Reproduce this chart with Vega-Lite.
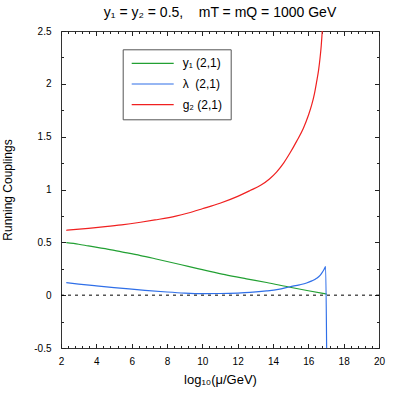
{
  "$schema": "https://vega.github.io/schema/vega-lite/v6.json",
  "autosize": {"type": "none"},
  "padding": {"left": 61, "top": 31, "right": 16, "bottom": 47},
  "width": 318,
  "height": 317,
  "background": "white",
  "title": {"text": "y₁ = y₂ = 0.5,\u00a0\u00a0\u00a0 mT = mQ = 1000 GeV", "font": "Liberation Sans", "fontSize": 14, "fontWeight": "normal", "color": "black", "anchor": "middle", "offset": 6},
  "config": {"view": {"stroke": "#333", "strokeWidth": 1}, "font": "Liberation Sans"},
  "resolve": {"axis": {"x": "independent", "y": "independent"}},
  "data": {"values": [
    {"s": "y₁ (2,1)", "x": 2.3, "y": 0.497},
    {"s": "y₁ (2,1)", "x": 3.0, "y": 0.482},
    {"s": "y₁ (2,1)", "x": 3.55, "y": 0.466},
    {"s": "y₁ (2,1)", "x": 4.5, "y": 0.44},
    {"s": "y₁ (2,1)", "x": 5.43, "y": 0.41},
    {"s": "y₁ (2,1)", "x": 6.5, "y": 0.375},
    {"s": "y₁ (2,1)", "x": 7.32, "y": 0.345},
    {"s": "y₁ (2,1)", "x": 8.5, "y": 0.3},
    {"s": "y₁ (2,1)", "x": 9.2, "y": 0.272},
    {"s": "y₁ (2,1)", "x": 10.0, "y": 0.242},
    {"s": "y₁ (2,1)", "x": 11.28, "y": 0.194},
    {"s": "y₁ (2,1)", "x": 12.5, "y": 0.155},
    {"s": "y₁ (2,1)", "x": 13.64, "y": 0.12},
    {"s": "y₁ (2,1)", "x": 14.96, "y": 0.075},
    {"s": "y₁ (2,1)", "x": 16.0, "y": 0.042},
    {"s": "y₁ (2,1)", "x": 17.04, "y": 0.01},
    {"s": "λ\u00a0 (2,1)", "x": 2.3, "y": 0.118},
    {"s": "λ\u00a0 (2,1)", "x": 3.0, "y": 0.105},
    {"s": "λ\u00a0 (2,1)", "x": 4.0, "y": 0.088},
    {"s": "λ\u00a0 (2,1)", "x": 5.0, "y": 0.072},
    {"s": "λ\u00a0 (2,1)", "x": 6.0, "y": 0.057},
    {"s": "λ\u00a0 (2,1)", "x": 6.75, "y": 0.046},
    {"s": "λ\u00a0 (2,1)", "x": 8.0, "y": 0.03},
    {"s": "λ\u00a0 (2,1)", "x": 9.0, "y": 0.02},
    {"s": "λ\u00a0 (2,1)", "x": 10.0, "y": 0.015},
    {"s": "λ\u00a0 (2,1)", "x": 11.0, "y": 0.016},
    {"s": "λ\u00a0 (2,1)", "x": 12.0, "y": 0.02},
    {"s": "λ\u00a0 (2,1)", "x": 12.7, "y": 0.026},
    {"s": "λ\u00a0 (2,1)", "x": 13.64, "y": 0.04},
    {"s": "λ\u00a0 (2,1)", "x": 14.3, "y": 0.055},
    {"s": "λ\u00a0 (2,1)", "x": 14.96, "y": 0.08},
    {"s": "λ\u00a0 (2,1)", "x": 15.5, "y": 0.098},
    {"s": "λ\u00a0 (2,1)", "x": 15.9, "y": 0.115},
    {"s": "λ\u00a0 (2,1)", "x": 16.2, "y": 0.135},
    {"s": "λ\u00a0 (2,1)", "x": 16.47, "y": 0.16},
    {"s": "λ\u00a0 (2,1)", "x": 16.65, "y": 0.185},
    {"s": "λ\u00a0 (2,1)", "x": 16.75, "y": 0.207},
    {"s": "λ\u00a0 (2,1)", "x": 16.88, "y": 0.24},
    {"s": "λ\u00a0 (2,1)", "x": 16.98, "y": 0.27},
    {"s": "λ\u00a0 (2,1)", "x": 17.04, "y": -0.6},
    {"s": "g₂ (2,1)", "x": 2.3, "y": 0.614},
    {"s": "g₂ (2,1)", "x": 3.55, "y": 0.633},
    {"s": "g₂ (2,1)", "x": 4.5, "y": 0.648},
    {"s": "g₂ (2,1)", "x": 5.43, "y": 0.665},
    {"s": "g₂ (2,1)", "x": 6.5, "y": 0.69},
    {"s": "g₂ (2,1)", "x": 7.32, "y": 0.712},
    {"s": "g₂ (2,1)", "x": 8.5, "y": 0.748},
    {"s": "g₂ (2,1)", "x": 9.2, "y": 0.778},
    {"s": "g₂ (2,1)", "x": 10.0, "y": 0.818},
    {"s": "g₂ (2,1)", "x": 11.0, "y": 0.87},
    {"s": "g₂ (2,1)", "x": 12.0, "y": 0.935},
    {"s": "g₂ (2,1)", "x": 12.7, "y": 0.99},
    {"s": "g₂ (2,1)", "x": 13.3, "y": 1.04},
    {"s": "g₂ (2,1)", "x": 13.8, "y": 1.1},
    {"s": "g₂ (2,1)", "x": 14.2, "y": 1.165},
    {"s": "g₂ (2,1)", "x": 14.6, "y": 1.25},
    {"s": "g₂ (2,1)", "x": 14.96, "y": 1.345},
    {"s": "g₂ (2,1)", "x": 15.35, "y": 1.46},
    {"s": "g₂ (2,1)", "x": 15.72, "y": 1.58},
    {"s": "g₂ (2,1)", "x": 16.0, "y": 1.7},
    {"s": "g₂ (2,1)", "x": 16.19, "y": 1.8},
    {"s": "g₂ (2,1)", "x": 16.35, "y": 1.91},
    {"s": "g₂ (2,1)", "x": 16.47, "y": 2.02},
    {"s": "g₂ (2,1)", "x": 16.58, "y": 2.13},
    {"s": "g₂ (2,1)", "x": 16.66, "y": 2.24},
    {"s": "g₂ (2,1)", "x": 16.73, "y": 2.36},
    {"s": "g₂ (2,1)", "x": 16.79, "y": 2.51},
    {"s": "g₂ (2,1)", "x": 16.84, "y": 2.7}
  ]},
  "layer": [
    {
      "transform": [{"filter": "datum.s == 'y₁ (2,1)'"}],
      "mark": {"type": "line", "strokeWidth": 1.2, "clip": true, "interpolate": "monotone"},
      "encoding": {
        "x": {"field": "x", "type": "quantitative",
          "scale": {"domain": [2, 20], "nice": false, "zero": false},
          "axis": {"orient": "bottom", "tickSize": -4.5, "title": "log₁₀(μ/GeV)", "titleFont": "Liberation Sans", "titleFontSize": 13, "titleFontWeight": "normal", "titleColor": "black", "titleX": 159, "titleY": 25,
            "values": [2, 4, 6, 8, 10, 12, 14, 16, 18, 20],
            "labelFont": "Liberation Sans", "labelFontSize": 10, "labelColor": "black", "labelPadding": 12.5, "labelFlush": false, "labelOverlap": false,
            "domain": false, "grid": false, "ticks": true, "tickColor": "#222", "tickWidth": 1}},
        "y": {"field": "y", "type": "quantitative",
          "scale": {"domain": [-0.5, 2.5], "nice": false, "zero": false},
          "axis": {"orient": "left", "tickSize": -4.5, "title": "Running Couplings", "titleFont": "Liberation Sans", "titleFontSize": 12, "titleFontWeight": "normal", "titleColor": "black", "titleX": -47, "titleY": 158.5,
            "values": [-0.5, 0, 0.5, 1, 1.5, 2, 2.5],
            "labelExpr": "datum.value + ''",
            "labelFont": "Liberation Sans", "labelFontSize": 10, "labelColor": "black", "labelPadding": 14.5, "labelFlush": false, "labelOverlap": false,
            "domain": false, "grid": false, "ticks": true, "tickColor": "#222", "tickWidth": 1}},
        "color": {"field": "s", "type": "nominal",
          "scale": {"domain": ["y₁ (2,1)", "λ\u00a0 (2,1)", "g₂ (2,1)"], "range": ["#22a033", "#2f6fe8", "#f02020"]},
          "legend": {"orient": "none", "legendX": 61.7, "legendY": 18.3, "title": null, "symbolType": "stroke", "symbolSize": 1764, "symbolStrokeWidth": 1.2,
            "labelFont": "Liberation Sans", "labelFontSize": 12, "labelColor": "black", "labelOffset": 8, "padding": 8, "strokeColor": "#555", "fillColor": "white", "cornerRadius": 0, "clipHeight": 12, "rowPadding": 8.7, "offset": 0}}
      }
    },
    {
      "transform": [{"filter": "datum.s == 'λ\u00a0 (2,1)'"}],
      "mark": {"type": "line", "strokeWidth": 1.2, "clip": true, "interpolate": "monotone"},
      "encoding": {
        "x": {"field": "x", "type": "quantitative",
          "scale": {"domain": [2, 20], "nice": false, "zero": false},
          "axis": {"orient": "bottom", "tickSize": -2.5, "title": null, "labels": false, "domain": false, "grid": false, "ticks": true, "tickColor": "#222", "tickWidth": 1,
            "values": [2.4,2.8,3.2,3.6,4.4,4.8,5.2,5.6,6.4,6.8,7.2,7.6,8.4,8.8,9.2,9.6,10.4,10.8,11.2,11.6,12.4,12.8,13.2,13.6,14.4,14.8,15.2,15.6,16.4,16.8,17.2,17.6,18.4,18.8,19.2,19.6]}},
        "y": {"field": "y", "type": "quantitative",
          "scale": {"domain": [-0.5, 2.5], "nice": false, "zero": false},
          "axis": {"orient": "left", "tickSize": -2.5, "title": null, "labels": false, "domain": false, "grid": false, "ticks": true, "tickColor": "#222", "tickWidth": 1,
            "values": [-0.25, 0.25, 0.75, 1.25, 1.75, 2.25]}},
        "color": {"field": "s", "type": "nominal"}
      }
    },
    {
      "transform": [{"filter": "datum.s == 'g₂ (2,1)'"}],
      "mark": {"type": "line", "strokeWidth": 1.2, "clip": true, "interpolate": "monotone"},
      "encoding": {
        "x": {"field": "x", "type": "quantitative",
          "scale": {"domain": [2, 20], "nice": false, "zero": false},
          "axis": {"orient": "top", "tickSize": -4.5, "title": null, "labels": false, "domain": false, "grid": false, "ticks": true, "tickColor": "#222", "tickWidth": 1,
            "values": [2, 4, 6, 8, 10, 12, 14, 16, 18, 20]}},
        "y": {"field": "y", "type": "quantitative",
          "scale": {"domain": [-0.5, 2.5], "nice": false, "zero": false},
          "axis": {"orient": "right", "tickSize": -4.5, "title": null, "labels": false, "domain": false, "grid": false, "ticks": true, "tickColor": "#222", "tickWidth": 1,
            "values": [-0.5, 0, 0.5, 1, 1.5, 2, 2.5]}},
        "color": {"field": "s", "type": "nominal"}
      }
    },
    {
      "data": {"values": [{"x": 2, "y": 0}, {"x": 20, "y": 0}]},
      "mark": {"type": "line", "color": "black", "strokeWidth": 1, "strokeDash": [3, 4]},
      "encoding": {
        "x": {"field": "x", "type": "quantitative",
          "scale": {"domain": [2, 20], "nice": false, "zero": false},
          "axis": {"orient": "top", "tickSize": -2.5, "title": null, "labels": false, "domain": false, "grid": false, "ticks": true, "tickColor": "#222", "tickWidth": 1,
            "values": [2.4,2.8,3.2,3.6,4.4,4.8,5.2,5.6,6.4,6.8,7.2,7.6,8.4,8.8,9.2,9.6,10.4,10.8,11.2,11.6,12.4,12.8,13.2,13.6,14.4,14.8,15.2,15.6,16.4,16.8,17.2,17.6,18.4,18.8,19.2,19.6]}},
        "y": {"field": "y", "type": "quantitative",
          "scale": {"domain": [-0.5, 2.5], "nice": false, "zero": false},
          "axis": {"orient": "right", "tickSize": -2.5, "title": null, "labels": false, "domain": false, "grid": false, "ticks": true, "tickColor": "#222", "tickWidth": 1,
            "values": [-0.25, 0.25, 0.75, 1.25, 1.75, 2.25]}}
      }
    }
  ]
}
